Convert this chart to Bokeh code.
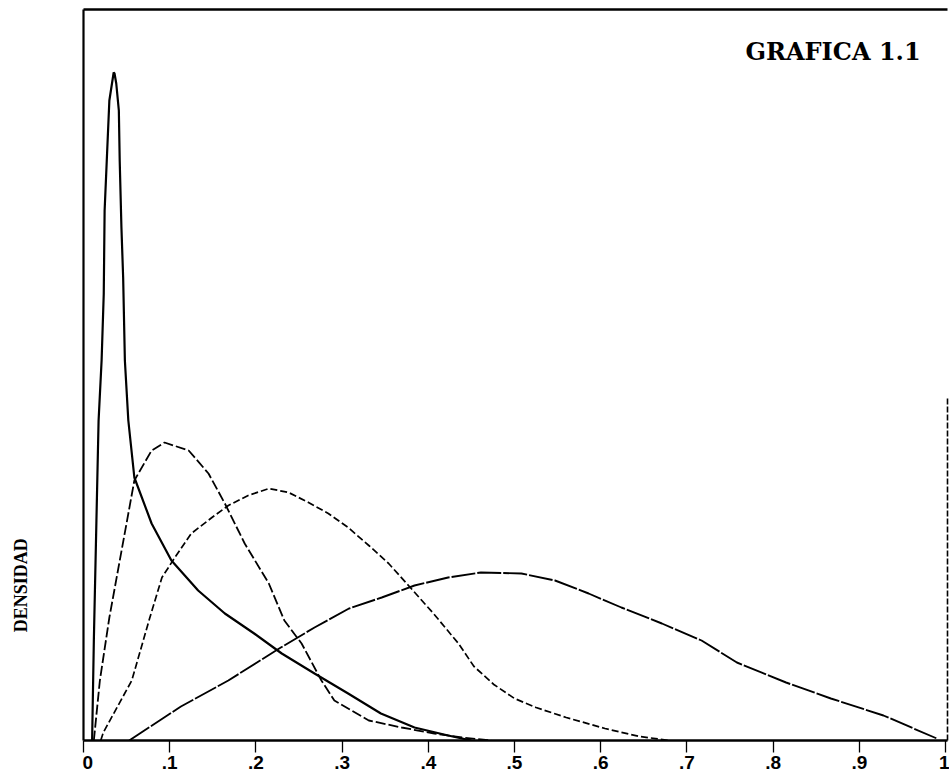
from math import pi
from bokeh.plotting import figure
from bokeh.layouts import row
from bokeh.models import Range1d, FixedTicker, LinearAxis, Label
from bokeh.core.properties import value
from bokeh.embed import file_html
from bokeh.resources import INLINE

# ---- data (x: proportion, y: density in arbitrary units) ----
x_ticks = [0, 0.1, 0.2, 0.3, 0.4, 0.5, 0.6, 0.7, 0.8, 0.9, 1]
tick_labels = ["0", ".1", ".2", ".3", ".4", ".5", ".6", ".7", ".8", ".9", "1"]

curve_a_x = [0.010, 0.012, 0.015, 0.0175, 0.021, 0.0235, 0.0245, 0.027, 0.030, 0.035,
             0.036, 0.038, 0.041, 0.042, 0.044, 0.046, 0.048, 0.052, 0.059, 0.079,
             0.102, 0.133, 0.164, 0.198, 0.230, 0.268, 0.307, 0.345, 0.384, 0.423, 0.450]
curve_a_y = [0.00, 1.00, 2.20, 3.20, 3.80, 4.47, 5.30, 5.80, 6.40, 6.68,
             6.67, 6.57, 6.30, 5.80, 5.13, 4.63, 3.80, 3.20, 2.63, 2.17,
             1.80, 1.50, 1.27, 1.07, 0.87, 0.67, 0.47, 0.27, 0.13, 0.05, 0.00]

curve_b_x = [0.012, 0.019, 0.030, 0.059, 0.079, 0.094, 0.122, 0.145, 0.164, 0.187,
             0.215, 0.233, 0.253, 0.276, 0.291, 0.331, 0.369, 0.407, 0.439, 0.473]
curve_b_y = [0.00, 0.60, 1.23, 2.60, 2.90, 2.98, 2.90, 2.67, 2.37, 1.97,
             1.57, 1.20, 0.97, 0.60, 0.40, 0.20, 0.13, 0.07, 0.03, 0.00]

curve_c_x = [0.020, 0.023, 0.056, 0.077, 0.091, 0.106, 0.125, 0.149, 0.168, 0.191,
             0.215, 0.238, 0.261, 0.284, 0.307, 0.331, 0.354, 0.377, 0.406, 0.435,
             0.453, 0.476, 0.500, 0.525, 0.560, 0.605, 0.645, 0.680]
curve_c_y = [0.00, 0.08, 0.60, 1.23, 1.63, 1.83, 2.07, 2.23, 2.35, 2.45,
             2.52, 2.48, 2.38, 2.27, 2.13, 1.95, 1.77, 1.55, 1.27, 0.97,
             0.74, 0.56, 0.42, 0.33, 0.23, 0.12, 0.04, 0.00]

curve_d_x = [0.053, 0.113, 0.168, 0.227, 0.268, 0.308, 0.346, 0.384, 0.423, 0.461,
             0.508, 0.547, 0.586, 0.624, 0.671, 0.717, 0.758, 0.815, 0.867, 0.928, 0.990]
curve_d_y = [0.00, 0.34, 0.60, 0.92, 1.13, 1.32, 1.43, 1.55, 1.63, 1.68,
             1.67, 1.60, 1.47, 1.33, 1.17, 1.00, 0.78, 0.58, 0.42, 0.25, 0.02]

title_text = "GRAFICA 1.1"
y_label_text = "DENSIDAD"
right_border_top = 3.43

# ---- left strip carrying the vertical axis title (pixel-like ranges) ----
side = figure(width=82, height=777, output_backend="svg", toolbar_location=None,
              x_range=Range1d(0, 82), y_range=Range1d(0, 777),
              x_axis_location=None, y_axis_location=None, min_border=0)
side.outline_line_color = None
side.grid.visible = False
side.text(x=[20], y=[165], text=[y_label_text], angle=pi / 2,
          text_font=value("Liberation Serif"), text_font_style="bold",
          text_font_size="18px", text_align="center", text_baseline="middle",
          text_color="black")

# ---- main plot ----
p = figure(width=867, height=777, output_backend="svg", toolbar_location=None,
           x_range=Range1d(0, 1.0023), y_range=Range1d(0, 7.31),
           min_border_left=1, min_border_right=2, min_border_top=9, min_border_bottom=37)
p.outline_line_color = None
p.grid.visible = False
p.background_fill_color = "white"
p.border_fill_color = "white"

xa = p.xaxis[0]
xa.ticker = FixedTicker(ticks=x_ticks)
xa.major_label_overrides = {t: l for t, l in zip(x_ticks, tick_labels)}
xa.axis_line_width = 2.6
xa.axis_line_color = "black"
xa.major_tick_out = 12
xa.major_tick_in = 0
xa.major_tick_line_width = 1.3
xa.minor_tick_line_color = None
xa.major_label_text_font = "Liberation Sans Narrow, Liberation Sans"
xa.major_label_text_font_style = "bold"
xa.major_label_text_font_size = "19px"
xa.major_label_text_color = "black"
xa.major_label_standoff = 3

ya = p.yaxis[0]
ya.ticker = FixedTicker(ticks=[])
ya.axis_line_width = 2.2
ya.axis_line_color = "black"
ya.major_label_text_font_size = "0px"
ya.major_label_standoff = 0
ya.major_tick_out = 0
ya.major_tick_in = 0
ya.minor_tick_out = 0
ya.minor_tick_line_color = None
ya.major_tick_line_color = None

top_axis = LinearAxis(ticker=FixedTicker(ticks=[]), axis_line_width=2.6, axis_line_color="black",
                      major_label_text_font_size="0px", major_label_standoff=0,
                      major_tick_out=0, major_tick_in=0, minor_tick_out=0,
                      major_tick_line_color=None, minor_tick_line_color=None)
p.add_layout(top_axis, "above")

right_axis = LinearAxis(ticker=FixedTicker(ticks=[]), bounds=(0, right_border_top),
                        axis_line_width=1.6, axis_line_color="black", axis_line_dash="6 2",
                        major_label_text_font_size="0px", major_label_standoff=0,
                        major_tick_out=0, major_tick_in=0, minor_tick_out=0,
                        major_tick_line_color=None, minor_tick_line_color=None)
p.add_layout(right_axis, "right")

p.line(curve_a_x, curve_a_y, line_color="black", line_width=2.2)
p.line(curve_b_x, curve_b_y, line_color="black", line_width=1.8, line_dash="10 3")
p.line(curve_c_x, curve_c_y, line_color="black", line_width=1.7, line_dash="7 3")
p.line(curve_d_x, curve_d_y, line_color="black", line_width=1.9, line_dash="24 2")

p.add_layout(Label(x=662, y=689, x_units="screen", y_units="screen", text=title_text,
                   text_font="DejaVu Serif", text_font_style="bold", text_font_size="24px",
                   text_align="left", text_baseline="alphabetic", text_color="black"))

layout = row(side, p)
open("out.html", "w").write(file_html(layout, INLINE))
